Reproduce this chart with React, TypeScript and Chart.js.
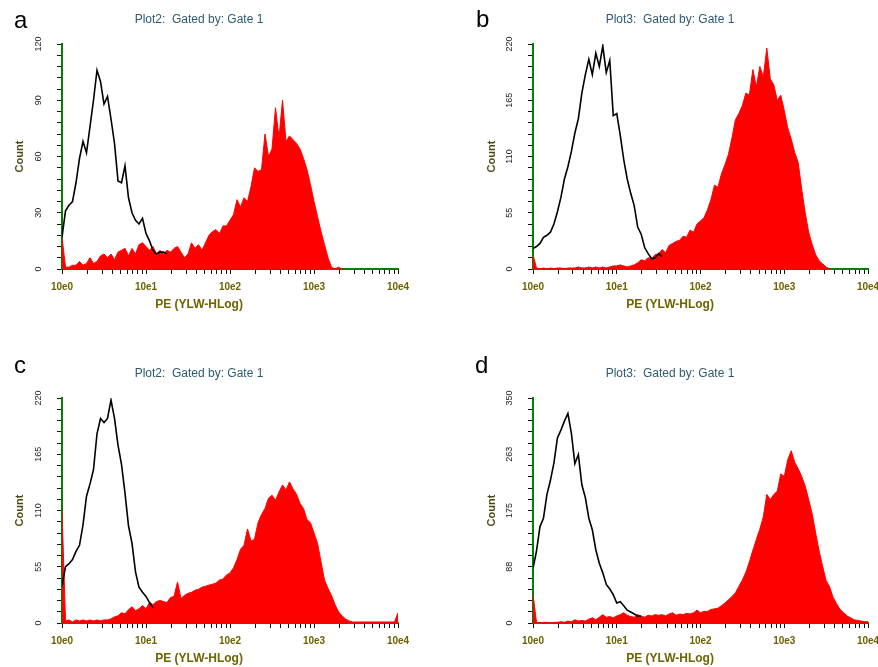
import React, { useEffect, useRef } from 'react';
import { Chart, registerables } from 'chart.js';

Chart.register(...registerables);

const FONT = '"Liberation Sans", Arial, sans-serif';

// Histogram channels: 24 bins per decade, bin i sits at 10^(i/24)
const CH_PER_DECADE = 24;
const X_TICK_LABELS = ['10e0', '10e1', '10e2', '10e3', '10e4'];
const X_TITLE = 'PE (YLW-HLog)';
const Y_TITLE = 'Count';

const TITLE_PLOT2 = 'Plot2:  Gated by: Gate 1';
const TITLE_PLOT3 = 'Plot3:  Gated by: Gate 1';

// Panel a
const A_Y_MAX = 120;
const A_Y_LABELS = ['0', '30', '60', '90', '120'];
const A_BLACK = [17, 31, 34, 36, 46, 59, 68, 62, 76, 90, 106, 100, 88, 92, 80, 67, 47, 46, 55, 38, 30, 26, 24, 27, 19, 15, 10, 8, 9, 9, 8];
const A_RED = [17, 1, 1, 2, 2, 4, 2, 3, 6, 3, 4, 7, 8, 6, 8, 5, 9, 10, 11, 7, 11, 8, 13, 14, 12, 10, 12, 8, 10, 8, 10, 9, 11, 12, 9, 6, 8, 14, 11, 13, 10, 14, 18, 20, 21, 19, 23, 23, 26, 29, 37, 33, 38, 36, 44, 54, 52, 53, 72, 60, 64, 86, 70, 90, 68, 71, 69, 67, 64, 59, 53, 45, 36, 28, 20, 13, 6, 1, 0, 1, 0];

// Panel b
const B_Y_MAX = 220;
const B_Y_LABELS = ['0', '55', '110', '165', '220'];
const B_BLACK = [20, 22, 25, 31, 33, 36, 44, 56, 70, 88, 100, 115, 133, 147, 172, 190, 205, 190, 211, 198, 218, 192, 204, 150, 152, 131, 107, 88, 74, 62, 41, 34, 21, 15, 10, 11, 15, 12];
const B_RED = [14, 1, 0, 1, 0, 1, 0, 1, 1, 0, 1, 1, 1, 2, 1, 1, 2, 1, 2, 1, 2, 1, 2, 3, 3, 4, 3, 2, 3, 4, 6, 9, 8, 11, 10, 14, 15, 19, 16, 23, 25, 27, 28, 32, 31, 38, 36, 44, 47, 50, 58, 68, 82, 80, 93, 102, 112, 128, 146, 152, 160, 172, 170, 195, 178, 198, 188, 216, 186, 180, 165, 170, 155, 138, 127, 114, 104, 78, 55, 36, 24, 14, 8, 5, 2, 0];

// Panel c
const C_Y_MAX = 220;
const C_Y_LABELS = ['0', '55', '110', '165', '220'];
const C_BLACK = [36, 55, 58, 62, 70, 76, 96, 124, 136, 150, 185, 200, 196, 200, 218, 200, 174, 155, 127, 95, 78, 50, 35, 30, 26, 20, 15];
const C_RED = [110, 2, 3, 1, 3, 2, 3, 2, 3, 2, 3, 2, 3, 3, 4, 6, 7, 10, 9, 13, 16, 12, 14, 17, 14, 20, 18, 21, 22, 21, 20, 25, 26, 40, 24, 27, 29, 30, 32, 33, 35, 36, 37, 38, 39, 42, 43, 47, 49, 54, 62, 72, 76, 92, 80, 82, 98, 106, 112, 122, 125, 120, 128, 135, 130, 138, 131, 126, 117, 112, 101, 98, 88, 78, 60, 42, 34, 27, 18, 11, 7, 4, 2, 1, 1, 1, 1, 1, 1, 1, 1, 1, 1, 1, 1, 1, 10];

// Panel d
const D_Y_MAX = 350;
const D_Y_LABELS = ['0', '88', '175', '263', '350'];
const D_BLACK = [85, 112, 150, 163, 200, 222, 249, 288, 300, 314, 326, 295, 248, 262, 215, 195, 163, 145, 114, 93, 78, 60, 53, 44, 31, 33, 27, 20, 17, 14, 11, 10];
const D_RED = [45, 1, 0, 1, 1, 0, 1, 1, 2, 1, 3, 2, 5, 3, 4, 3, 6, 8, 5, 9, 13, 9, 10, 8, 11, 13, 16, 12, 10, 9, 13, 11, 9, 12, 11, 13, 12, 13, 11, 14, 16, 12, 14, 13, 15, 14, 16, 20, 16, 18, 18, 21, 22, 23, 27, 31, 36, 41, 47, 57, 67, 79, 95, 113, 130, 146, 165, 200, 192, 200, 205, 232, 228, 254, 268, 250, 240, 228, 213, 192, 170, 140, 112, 88, 66, 56, 40, 30, 21, 16, 11, 8, 5, 4, 3, 2, 2];

const X_MAJOR = [1, 10, 100, 1000, 10000];
const X_TICK_VALUES: number[] = (() => {
  const out: number[] = [];
  for (let d = 0; d < 4; d++) {
    for (let k = 1; k <= 9; k++) out.push(k * X_MAJOR[d]);
  }
  out.push(X_MAJOR[4]);
  return out;
})();

function toPoints(values: number[]) {
  return values.map((v, i) => ({ x: Math.pow(10, i / CH_PER_DECADE), y: v }));
}

type PanelProps = {
  letter: string;
  title: string;
  yMax: number;
  yLabels: string[];
  black: number[];
  red: number[];
  left: number;
  top: number;
  width: number;
  axisWidth: number;
  letterLeft: number;
  letterTop: number;
};

function Panel(p: PanelProps) {
  const ref = useRef<HTMLCanvasElement>(null);
  useEffect(() => {
    const chart = new Chart(ref.current as HTMLCanvasElement, {
      type: 'line',
      data: {
        datasets: [
          {
            data: toPoints(p.black),
            borderColor: '#000000',
            borderWidth: 1.6,
            pointRadius: 0,
            fill: false,
            tension: 0,
          },
          {
            data: toPoints(p.red),
            borderColor: '#ff0000',
            backgroundColor: '#ff0000',
            borderWidth: 1,
            pointRadius: 0,
            fill: 'origin',
            tension: 0,
          },
        ],
      },
      options: {
        responsive: false,
        animation: false,
        events: [],
        layout: { padding: { left: 0, right: 32, top: 0, bottom: 0 } },
        plugins: {
          legend: { display: false },
          tooltip: { enabled: false },
          title: {
            display: true,
            text: p.title,
            color: '#2e5a72',
            font: { family: FONT, size: 12, weight: 'normal' },
            padding: { top: 12, bottom: 17.6 },
          },
          subtitle: {
            display: true,
            position: 'bottom',
            text: X_TITLE,
            color: '#6e6400',
            font: { family: FONT, size: 12, weight: 'bold' },
            padding: { top: 0, bottom: 7.8 },
          },
        },
        scales: {
          x: {
            type: 'logarithmic',
            min: 1,
            max: 10000,
            afterBuildTicks: (s: any) => {
              s.ticks = X_TICK_VALUES.map((v) => ({ value: v }));
            },
            afterFit: (s: any) => {
              s.height = 28.8;
            },
            ticks: {
              autoSkip: false,
              minRotation: 0,
              maxRotation: 0,
              padding: 7,
              color: '#6b6100',
              font: { family: FONT, size: 10, weight: 'bold' },
              callback: (v: any) => {
                const idx = X_MAJOR.indexOf(Number(v));
                return idx >= 0 ? X_TICK_LABELS[idx] : '';
              },
            },
            grid: { drawOnChartArea: false, drawTicks: true, tickLength: 5, tickColor: '#111111', tickWidth: 1 },
            border: { display: true, color: '#008000', width: 2 },
          },
          y: {
            type: 'linear',
            min: 0,
            max: p.yMax,
            afterBuildTicks: (s: any) => {
              const t = [];
              for (let k = 0; k <= 20; k++) t.push({ value: (p.yMax * k) / 20 });
              s.ticks = t;
            },
            afterFit: (s: any) => {
              s.width = p.axisWidth;
            },
            ticks: {
              autoSkip: false,
              minRotation: 90,
              maxRotation: 90,
              crossAlign: 'center',
              padding: 11,
              color: '#222222',
              font: { family: FONT, size: 9 },
              callback: (_v: any, i: number) => (i % 5 === 0 ? p.yLabels[i / 5] : ''),
            },
            grid: { drawOnChartArea: false, drawTicks: true, tickLength: 5, tickColor: '#111111', tickWidth: 1 },
            border: { display: true, color: '#008000', width: 2 },
            title: {
              display: true,
              text: Y_TITLE,
              color: '#4a4a10',
              font: { family: FONT, size: 11, weight: 'bold' },
              padding: { top: 13.4, bottom: 0 },
            },
          },
        },
      } as any,
    });
    return () => chart.destroy();
  }, []);

  return (
    <>
      <canvas
        ref={ref}
        width={p.width}
        height={320}
        style={{ position: 'absolute', left: p.left, top: p.top, width: p.width, height: 320 }}
      />
      <div
        style={{
          position: 'absolute',
          left: p.letterLeft,
          top: p.letterTop,
          fontFamily: FONT,
          fontSize: 24,
          lineHeight: '24px',
          color: '#000',
        }}
      >
        {p.letter}
      </div>
    </>
  );
}

export default function App() {
  return (
    <div
      style={{
        position: 'absolute',
        left: 0,
        top: 0,
        width: 878,
        height: 667,
        overflow: 'hidden',
        background: '#ffffff',
      }}
    >
      <Panel letter="a" title={TITLE_PLOT2} yMax={A_Y_MAX} yLabels={A_Y_LABELS} black={A_BLACK} red={A_RED}
        left={0} top={0} width={430} axisWidth={62} letterLeft={14} letterTop={8} />
      <Panel letter="b" title={TITLE_PLOT3} yMax={B_Y_MAX} yLabels={B_Y_LABELS} black={B_BLACK} red={B_RED}
        left={472} top={0} width={428} axisWidth={61} letterLeft={476} letterTop={7} />
      <Panel letter="c" title={TITLE_PLOT2} yMax={C_Y_MAX} yLabels={C_Y_LABELS} black={C_BLACK} red={C_RED}
        left={0} top={354} width={430} axisWidth={62} letterLeft={14} letterTop={353} />
      <Panel letter="d" title={TITLE_PLOT3} yMax={D_Y_MAX} yLabels={D_Y_LABELS} black={D_BLACK} red={D_RED}
        left={472} top={354} width={428} axisWidth={61} letterLeft={475} letterTop={353} />
    </div>
  );
}
